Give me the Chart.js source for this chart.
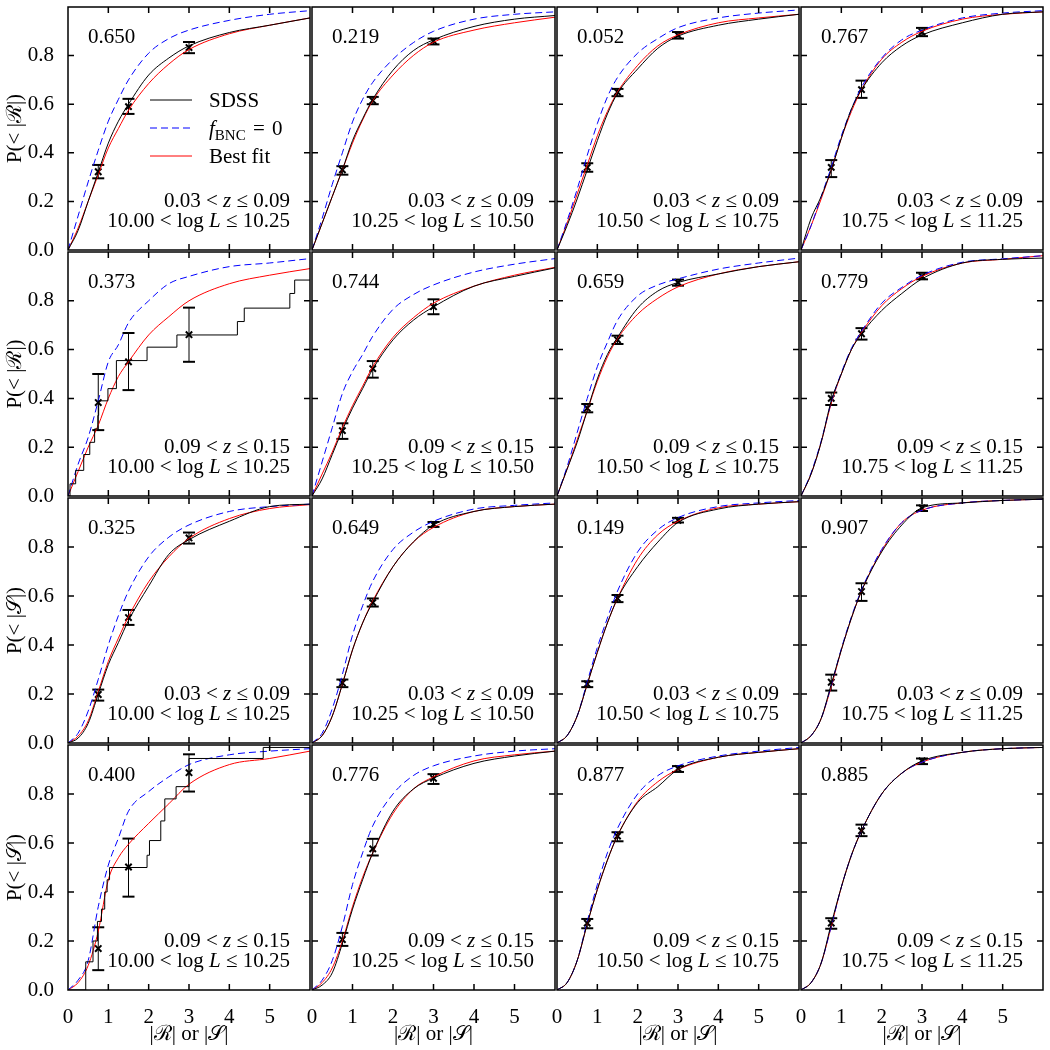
<!DOCTYPE html>
<html>
<head>
<meta charset="utf-8">
<script src="https://cdn.jsdelivr.net/npm/chart.js@4.4.1/dist/chart.umd.min.js"></script>
<style>
html, body { margin: 0; padding: 0; background: #fff; }
#wrap { position: relative; width: 1050px; height: 1050px; overflow: hidden; }
#wrap canvas { position: absolute; }
</style>
</head>
<body>
<div id="wrap"></div>
<script>
// ===== DATA =====
const xGrid = [0, 0.25, 0.5, 0.75, 1, 1.25, 1.5, 2, 2.5, 3, 4, 5, 6]
const pValues = ['0.650','0.219','0.052','0.767','0.373','0.744','0.659','0.779','0.325','0.649','0.149','0.907','0.400','0.776','0.877','0.885']
const zEdges = [['0.03','0.09'], ['0.09','0.15'], ['0.03','0.09'], ['0.09','0.15']]
const lEdges = ['10.00', '10.25', '10.50', '10.75', '11.25']
const xTicks = [1, 2, 3, 4, 5]
const yTicks = [0.2, 0.4, 0.6, 0.8]

// best fit (red)
const bestFit = [
  [0,0.09,0.20,0.31,0.42,0.50,0.575,0.685,0.765,0.825,0.89,0.925,0.955],
  [0,0.11,0.22,0.33,0.44,0.535,0.615,0.72,0.80,0.855,0.905,0.935,0.958],
  [0,0.11,0.23,0.35,0.47,0.57,0.65,0.76,0.84,0.885,0.935,0.955,0.97],
  [0,0.10,0.21,0.33,0.46,0.57,0.66,0.785,0.855,0.90,0.95,0.97,0.98],
  [0,0.10,0.20,0.29,0.40,0.49,0.55,0.66,0.735,0.80,0.87,0.905,0.932],
  [0,0.09,0.18,0.28,0.37,0.45,0.53,0.65,0.73,0.79,0.86,0.905,0.937],
  [0,0.11,0.23,0.35,0.47,0.57,0.645,0.745,0.81,0.857,0.91,0.94,0.96],
  [0,0.09,0.22,0.38,0.50,0.60,0.67,0.78,0.85,0.90,0.955,0.97,0.985],
  [0,0.028,0.09,0.21,0.333,0.428,0.516,0.658,0.76,0.835,0.916,0.957,0.973],
  [0,0.03,0.11,0.24,0.38,0.49,0.58,0.72,0.82,0.88,0.945,0.965,0.975],
  [0,0.03,0.11,0.24,0.37,0.49,0.59,0.75,0.85,0.905,0.96,0.975,0.985],
  [0,0.03,0.10,0.23,0.38,0.51,0.62,0.785,0.90,0.95,0.98,0.99,0.995],
  [0,0.03,0.10,0.24,0.45,0.54,0.595,0.68,0.76,0.84,0.92,0.945,0.975],
  [0,0.03,0.09,0.20,0.34,0.46,0.56,0.72,0.82,0.87,0.935,0.96,0.975],
  [0,0.03,0.12,0.27,0.41,0.53,0.63,0.77,0.85,0.90,0.95,0.97,0.985],
  [0,0.03,0.11,0.26,0.42,0.55,0.65,0.80,0.885,0.93,0.97,0.985,0.99]
]

// f_BNC = 0 (blue dashed)
const noBnc = [
  [0,0.14,0.28,0.41,0.53,0.62,0.70,0.81,0.87,0.905,0.945,0.97,0.985],
  [0,0.13,0.27,0.40,0.527,0.62,0.69,0.785,0.853,0.90,0.95,0.97,0.98],
  [0,0.12,0.25,0.39,0.52,0.63,0.71,0.81,0.87,0.915,0.955,0.975,0.988],
  [0,0.10,0.22,0.34,0.47,0.58,0.67,0.79,0.865,0.905,0.955,0.975,0.985],
  [0,0.13,0.24,0.39,0.55,0.62,0.71,0.80,0.87,0.90,0.94,0.955,0.973],
  [0,0.14,0.28,0.42,0.51,0.58,0.655,0.765,0.825,0.865,0.918,0.95,0.973],
  [0,0.12,0.26,0.40,0.53,0.63,0.72,0.82,0.865,0.89,0.93,0.955,0.975],
  [0,0.095,0.225,0.385,0.505,0.605,0.675,0.79,0.855,0.905,0.958,0.972,0.985],
  [0,0.04,0.13,0.26,0.40,0.52,0.62,0.76,0.84,0.89,0.945,0.965,0.975],
  [0,0.04,0.14,0.28,0.44,0.56,0.66,0.79,0.86,0.905,0.955,0.97,0.98],
  [0,0.03,0.11,0.25,0.39,0.51,0.62,0.78,0.87,0.92,0.965,0.98,0.99],
  [0,0.03,0.10,0.235,0.385,0.515,0.625,0.79,0.90,0.95,0.98,0.99,0.995],
  [0,0.04,0.12,0.34,0.51,0.62,0.73,0.81,0.87,0.92,0.96,0.975,0.985],
  [0,0.04,0.12,0.26,0.43,0.56,0.67,0.80,0.875,0.915,0.955,0.975,0.985],
  [0,0.03,0.12,0.28,0.43,0.56,0.66,0.80,0.875,0.915,0.955,0.975,0.99],
  [0,0.03,0.11,0.26,0.42,0.55,0.65,0.80,0.885,0.93,0.97,0.985,0.99]
]

// SDSS (black) - values on xGrid, or [x, y] steps for the sparse bins
const sdss = [
  [0,0.08,0.20,0.32,0.44,0.53,0.60,0.72,0.79,0.84,0.895,0.925,0.955],
  [0,0.11,0.22,0.33,0.45,0.54,0.62,0.74,0.82,0.865,0.92,0.95,0.965],
  [0,0.10,0.21,0.33,0.45,0.56,0.645,0.745,0.83,0.88,0.925,0.95,0.97],
  [0,0.13,0.22,0.33,0.46,0.58,0.66,0.77,0.84,0.885,0.935,0.97,0.98],
  [[0,0],[0.05,0.05],[0.19,0.105],[0.39,0.17],[0.54,0.22],[0.66,0.275],[0.74,0.33],[0.76,0.39],[0.99,0.44],[1.2,0.555],[1.96,0.61],[2.7,0.66],[4.2,0.715],[4.37,0.77],[5.5,0.83],[5.62,0.885],[6,0.885]],
  [0,0.07,0.17,0.27,0.36,0.44,0.52,0.64,0.72,0.775,0.86,0.90,0.935],
  [0,0.11,0.22,0.35,0.48,0.58,0.65,0.77,0.84,0.875,0.91,0.94,0.96],
  [0,0.09,0.22,0.39,0.50,0.60,0.665,0.76,0.83,0.89,0.955,0.97,0.975],
  [0,0.02,0.08,0.20,0.32,0.41,0.50,0.64,0.77,0.83,0.905,0.965,0.975],
  [0,0.03,0.11,0.24,0.38,0.49,0.575,0.72,0.82,0.89,0.945,0.965,0.975],
  [0,0.03,0.11,0.24,0.37,0.49,0.59,0.72,0.82,0.90,0.955,0.975,0.985],
  [0,0.03,0.10,0.24,0.38,0.51,0.62,0.78,0.89,0.96,0.98,0.99,0.995],
  [[0,0],[0.44,0],[0.44,0.115],[0.62,0.2],[0.73,0.28],[0.83,0.33],[0.91,0.4],[0.97,0.45],[1.03,0.5],[1.96,0.55],[2.02,0.61],[2.3,0.69],[2.4,0.78],[2.68,0.83],[3.0,0.945],[4.84,0.99],[6,0.99]],
  [0,0.02,0.07,0.19,0.33,0.45,0.56,0.73,0.82,0.865,0.925,0.955,0.975],
  [0,0.03,0.12,0.27,0.41,0.53,0.63,0.765,0.83,0.90,0.95,0.97,0.985],
  [0,0.03,0.11,0.27,0.42,0.55,0.65,0.80,0.885,0.935,0.97,0.985,0.99]
]

// error bar points
const errX = [0.75, 1.5, 3]
const errMid = [
  [0.322,0.59,0.833],[0.33,0.615,0.86],[0.34,0.65,0.884],[0.34,0.66,0.897],
  [0.383,0.55,0.661],[0.268,0.522,0.776],[0.36,0.64,0.875],[0.40,0.665,0.90],
  [0.198,0.512,0.837],[0.245,0.573,0.892],[0.241,0.59,0.909],[0.248,0.618,0.959],
  [0.169,0.502,0.887],[0.206,0.576,0.864],[0.273,0.628,0.904],[0.273,0.65,0.935]
]
const errLo = [
  [0.295,0.56,0.81],[0.31,0.60,0.846],[0.322,0.633,0.87],[0.30,0.626,0.88],
  [0.27,0.434,0.55],[0.234,0.485,0.745],[0.343,0.623,0.862],[0.373,0.641,0.888],
  [0.173,0.482,0.814],[0.228,0.557,0.882],[0.228,0.575,0.90],[0.214,0.58,0.947],
  [0.081,0.381,0.81],[0.18,0.549,0.841],[0.252,0.607,0.89],[0.25,0.628,0.922]
]
const errHi = [
  [0.35,0.622,0.856],[0.345,0.63,0.87],[0.357,0.663,0.897],[0.37,0.697,0.914],
  [0.50,0.668,0.772],[0.298,0.553,0.806],[0.377,0.657,0.887],[0.424,0.688,0.915],
  [0.218,0.543,0.859],[0.259,0.59,0.902],[0.252,0.604,0.919],[0.279,0.652,0.97],
  [0.256,0.618,0.962],[0.233,0.617,0.881],[0.29,0.644,0.914],[0.293,0.675,0.945]
]

// ===== LAYOUT =====
const SERIF = '"Liberation Serif", "DejaVu Serif", serif'
const FS = 21
const colLeft = [68, 312, 557, 801, 1045]
const rowTop = [5, 250, 496, 743, 990]

// parts: t = text, i = italic, s = subscript, g = extra gap in px
function drawRich(ctx, parts, x, y, align) {
    const fonts = parts.map(p => (p.i ? 'italic ' : '') + (p.s ? '15px ' : FS + 'px ') + SERIF)
    const widths = parts.map((p, k) => {
        ctx.font = fonts[k]
        return (p.t ? ctx.measureText(p.t).width : 0) + (p.g || 0)
    })
    const total = widths.reduce((s, v) => s + v, 0)
    let cx = align === 'right' ? x - total : x
    parts.forEach((p, k) => {
        ctx.font = fonts[k]
        if (p.t) ctx.fillText(p.t, cx, y + (p.s ? 5 : 0))
        cx += widths[k]
    })
}

const panelDecor = {
    id: 'panelDecor',
    afterDraw(chart, args, opts) {
        const ctx = chart.ctx
        const a = chart.chartArea
        const xs = chart.scales.x, ys = chart.scales.y
        ctx.save()
        ctx.strokeStyle = '#000'
        ctx.lineWidth = 1.5
        ctx.strokeRect(a.left, a.top, a.right - a.left, a.bottom - a.top)
        ctx.beginPath()
        xTicks.forEach(v => {
            const px = xs.getPixelForValue(v)
            ctx.moveTo(px, a.bottom); ctx.lineTo(px, a.bottom - 6)
            ctx.moveTo(px, a.top); ctx.lineTo(px, a.top + 6)
        })
        yTicks.forEach(v => {
            const py = ys.getPixelForValue(v)
            ctx.moveTo(a.left, py); ctx.lineTo(a.left + 6, py)
            ctx.moveTo(a.right, py); ctx.lineTo(a.right - 6, py)
        })
        ctx.stroke()

        const i = opts.index, r = Math.floor(i / 4), c = i % 4
        ctx.fillStyle = '#000'
        ctx.textBaseline = 'alphabetic'
        drawRich(ctx, [{ t: pValues[i] }], a.left + 20, a.top + 36, 'left')
        drawRich(ctx, [{ t: zEdges[r][0] + ' < ' }, { t: 'z', i: 1 }, { t: ' ≤ ' + zEdges[r][1] }],
            a.left + 222, a.bottom - 43, 'right')
        drawRich(ctx, [{ t: lEdges[c] + ' < log ' }, { t: 'L', i: 1 }, { t: ' ≤ ' + lEdges[c + 1] }],
            a.left + 222, a.bottom - 23, 'right')

        if (i === 0) {
            const items = [
                { color: '#000', dash: [], parts: [{ t: 'SDSS' }] },
                { color: '#0000ff', dash: [7, 4], parts: [{ t: 'f', i: 1 }, { t: 'BNC', s: 1 }, { t: ' ', g: 2 }, { t: '=' }, { t: ' ', g: 2 }, { t: '0' }] },
                { color: '#ff0000', dash: [], parts: [{ t: 'Best fit' }] }
            ]
            items.forEach((it, k) => {
                const y = a.top + 93 + k * 28
                ctx.strokeStyle = it.color
                ctx.lineWidth = 1
                ctx.setLineDash(it.dash)
                ctx.beginPath(); ctx.moveTo(a.left + 82, y); ctx.lineTo(a.left + 124, y); ctx.stroke()
                ctx.setLineDash([])
                drawRich(ctx, it.parts, a.left + 141, y + 7, 'left')
            })
        }
        ctx.restore()
    }
}

function curvePoints(vals) {
    if (Array.isArray(vals[0])) return vals.map(p => ({ x: p[0], y: p[1] }))
    return vals.map((v, k) => ({ x: xGrid[k], y: v }))
}

function noPad(s) {
    s.paddingLeft = 0; s.paddingRight = 0; s.paddingTop = 0; s.paddingBottom = 0
}

const wrap = document.getElementById('wrap')
for (let i = 0; i < 16; i++) {
    const r = Math.floor(i / 4), c = i % 4
    const x0 = colLeft[c], y0 = rowTop[r]
    const w = colLeft[c + 1] - x0, h = rowTop[r + 1] - y0
    const ml = c === 0 ? 68 : 14, mb = r === 3 ? 60 : 14, mt = 6, mr = 6
    const cv = document.createElement('canvas')
    cv.width = w + ml + mr
    cv.height = h + mt + mb
    cv.style.left = (x0 - ml) + 'px'
    cv.style.top = (y0 - mt) + 'px'
    wrap.appendChild(cv)

    const stepped = Array.isArray(sdss[i][0])
    const bars = []
    errX.forEach((x, k) => {
        bars.push({ x: x, y: errLo[i][k] }, { x: x, y: errHi[i][k] }, { x: x, y: null })
    })

    new Chart(cv, {
        type: 'line',
        data: {
            datasets: [
                {
                    label: 'SDSS', data: curvePoints(sdss[i]),
                    borderColor: '#000', borderWidth: 1, pointRadius: 0,
                    stepped: stepped ? 'before' : false,
                    cubicInterpolationMode: 'monotone'
                },
                {
                    label: 'fBNC = 0', data: curvePoints(noBnc[i]),
                    borderColor: '#0000ff', borderWidth: 1, borderDash: [7, 4], pointRadius: 0,
                    cubicInterpolationMode: 'monotone'
                },
                {
                    label: 'Best fit', data: curvePoints(bestFit[i]),
                    borderColor: '#ff0000', borderWidth: 1, pointRadius: 0,
                    cubicInterpolationMode: 'monotone'
                },
                {
                    label: 'errors', data: bars, spanGaps: false,
                    borderColor: '#000', borderWidth: 1,
                    pointStyle: 'line', pointRadius: 6, pointBorderWidth: 2,
                    pointBorderColor: '#000', clip: false
                },
                {
                    label: 'points', data: errX.map((x, k) => ({ x: x, y: errMid[i][k] })),
                    showLine: false, pointStyle: 'crossRot', pointRadius: 4.5,
                    pointBorderWidth: 2, pointBorderColor: '#000', clip: false
                }
            ]
        },
        options: {
            responsive: false,
            animation: false,
            devicePixelRatio: 1,
            layout: { padding: { left: c === 0 ? 0 : ml, right: mr, top: mt, bottom: r === 3 ? 0 : mb } },
            plugins: {
                legend: { display: false },
                tooltip: { enabled: false },
                panelDecor: { index: i }
            },
            scales: {
                x: {
                    type: 'linear', min: 0, max: 6,
                    grid: { display: false }, border: { display: false },
                    ticks: {
                        display: r === 3, stepSize: 1, autoSkip: false, maxRotation: 0, padding: 7,
                        color: '#000', font: { family: SERIF, size: FS },
                        callback: v => v === 6 ? '' : String(v)
                    },
                    title: {
                        display: r === 3, text: '|ℛ| or |𝒮|', color: '#000',
                        font: { family: SERIF, size: FS }, padding: { top: 0, bottom: 3 }
                    },
                    afterFit: s => { s.height = r === 3 ? 60 : 0; noPad(s) }
                },
                y: {
                    min: 0, max: 1,
                    grid: { display: false }, border: { display: false },
                    ticks: {
                        display: c === 0, stepSize: 0.2, padding: 6,
                        color: '#000', font: { family: SERIF, size: FS },
                        callback: v => v > 0.99 ? '' : v.toFixed(1)
                    },
                    title: {
                        display: c === 0, text: r < 2 ? 'P(< |ℛ|)' : 'P(< |𝒮|)', color: '#000',
                        font: { family: SERIF, size: FS }, padding: { top: 3, bottom: 0 }
                    },
                    afterFit: s => { s.width = c === 0 ? 68 : 0; noPad(s) }
                }
            }
        },
        plugins: [panelDecor]
    })
}
</script>
</body>
</html>
